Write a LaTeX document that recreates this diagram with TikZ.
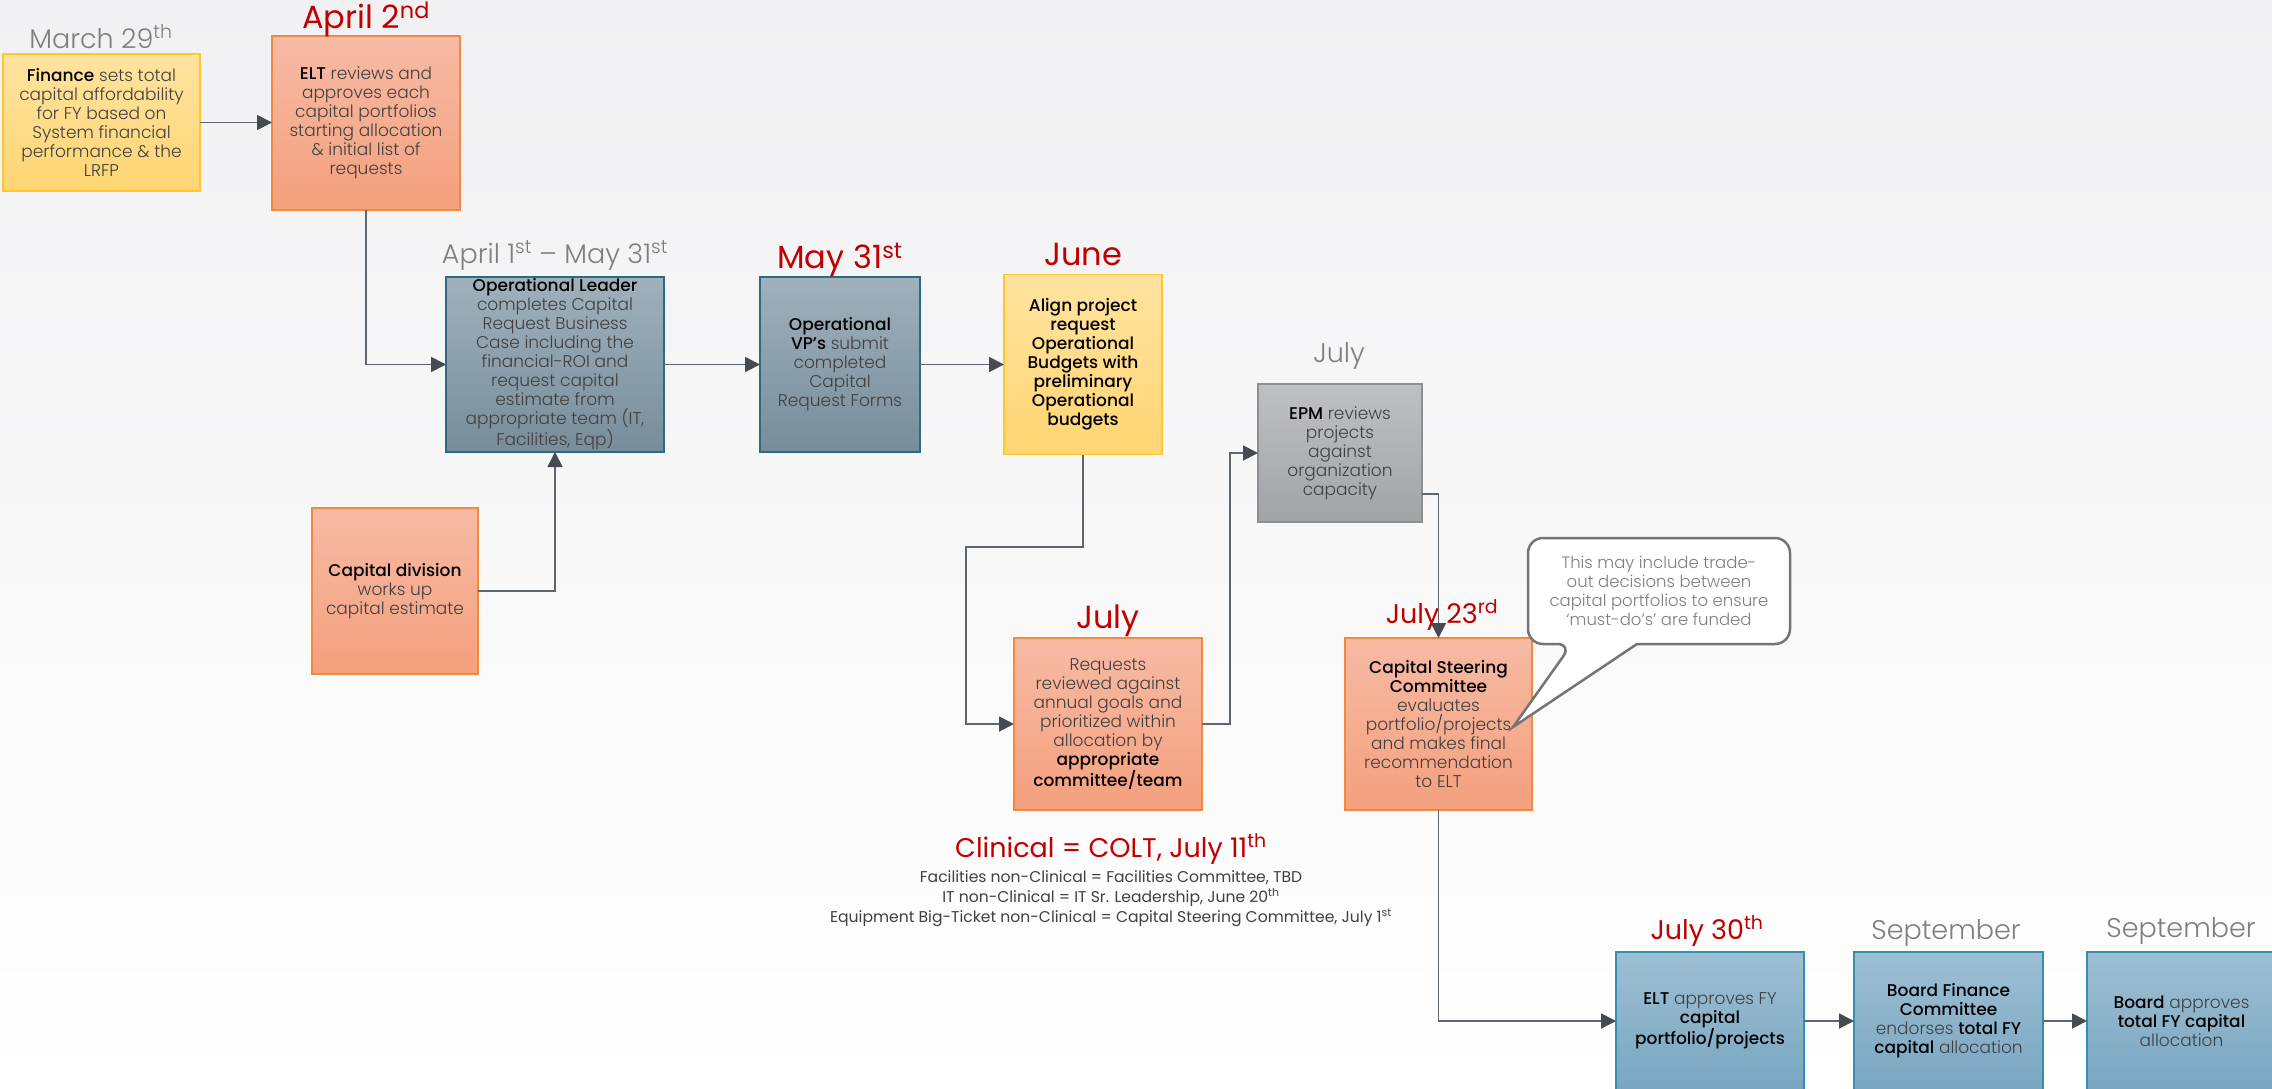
\documentclass[tikz,border=0pt]{standalone}
\usepackage{fontspec}
\setmainfont{Poppins}[UprightFont={* Light},BoldFont={* Medium}]
\newfontfamily\regfont{Poppins}
\usetikzlibrary{arrows.meta,calc}
\definecolor{red1}{HTML}{C00000}
\definecolor{greylbl}{HTML}{7F7F7F}
\definecolor{txt}{HTML}{404040}
\definecolor{ytop}{HTML}{FFE39F}
\definecolor{ybot}{HTML}{FFD573}
\definecolor{ydraw}{HTML}{FFC72C}
\definecolor{otop}{HTML}{F7BAA4}
\definecolor{obot}{HTML}{F4A07D}
\definecolor{odraw}{HTML}{F08A40}
\definecolor{stop}{HTML}{A0B1BD}
\definecolor{sbot}{HTML}{788C9A}
\definecolor{sdraw}{HTML}{2A6A82}
\definecolor{gtop}{HTML}{BFC0C2}
\definecolor{gbot}{HTML}{A1A3A6}
\definecolor{gdraw}{HTML}{8C8E91}
\definecolor{btop}{HTML}{9EBFD3}
\definecolor{bbot}{HTML}{78A6C1}
\definecolor{bdraw}{HTML}{3390AE}
\definecolor{lc}{HTML}{5F656C}
\definecolor{tipc}{HTML}{464B52}
\definecolor{bgtop}{HTML}{F1F1F3}
\definecolor{callc}{HTML}{747474}
\newcommand\bk[1]{\textbf{\color{black}#1}}
\newcommand\sx[1]{\textsuperscript{#1}}
\tikzset{
  box/.style={draw, line width=1.5pt, align=center, inner sep=0pt, outer sep=0pt,
    text=txt, font=\fontsize{17}{19}\selectfont},
  ybox/.style={box, draw=ydraw, top color=ytop, bottom color=ybot},
  obox/.style={box, draw=odraw, top color=otop, bottom color=obot},
  sbox/.style={box, draw=sdraw, top color=stop, bottom color=sbot},
  gbox/.style={box, draw=gdraw, top color=gtop, bottom color=gbot},
  bbox/.style={box, draw=bdraw, top color=btop, bottom color=bbot},
  redA/.style={text=red1, font=\regfont\fontsize{32}{36}\selectfont, anchor=base, inner sep=0pt},
  redB/.style={text=red1, font=\regfont\fontsize{27}{30}\selectfont, anchor=base, inner sep=0pt},
  greyL/.style={text=greylbl, font=\fontsize{27}{30}\selectfont, anchor=base, inner sep=0pt},
  note/.style={text=txt, font=\regfont\fontsize{15.6}{18}\selectfont, anchor=base, inner sep=0pt},
  conn/.style={draw=lc, line width=1.8pt, -{Triangle[length=15pt,width=15pt,color=tipc]}},
}
\begin{document}
\begin{tikzpicture}[x=1pt,y=-1pt]
\useasboundingbox (0,0) rectangle (2272,1088);
\clip (0,0) rectangle (2272,1088);
\fill[top color=bgtop, bottom color=white] (0,0) rectangle (2272,1088);

% boxes
\node[ybox, minimum width=197pt, minimum height=137pt] (fin) at (101.5,122.5)
  {\bk{Finance} sets total\\capital affordability\\for FY based on\\System financial\\performance \& the\\LRFP};
\node[obox, minimum width=188pt, minimum height=174pt] (apr) at (366,123)
  {\bk{ELT} reviews and\\approves each\\capital portfolios\\starting allocation\\\& initial list of\\requests};
\node[sbox, minimum width=218pt, minimum height=175pt] (opl) at (555,364.5)
  {\bk{Operational Leader}\\completes Capital\\Request Business\\Case including the\\financial-ROI and\\request capital\\estimate from\\appropriate team (IT,\\Facilities, Eqp)};
\node[sbox, minimum width=160pt, minimum height=175pt] (may) at (840,364.5)
  {\bk{Operational}\\\bk{VP’s} submit\\completed\\Capital\\Request Forms};
\node[ybox, minimum width=158pt, minimum height=180pt, text=black] (jun) at (1083,364.5)
  {\bfseries Align project\\\bfseries request\\\bfseries Operational\\\bfseries Budgets with\\\bfseries preliminary\\\bfseries Operational\\\bfseries budgets};
\node[gbox, minimum width=164pt, minimum height=138pt] (epm) at (1340,453)
  {\bk{EPM} reviews\\projects\\against\\organization\\capacity};
\node[obox, minimum width=166pt, minimum height=166pt] (cdv) at (395,591)
  {\bk{Capital division}\\works up\\capital estimate};
\node[obox, minimum width=188pt, minimum height=172pt] (req) at (1108,724)
  {Requests\\reviewed against\\annual goals and\\prioritized within\\allocation by\\\bk{appropriate}\\\bk{committee/team}};
\node[obox, minimum width=187pt, minimum height=172pt] (csc) at (1438.5,724)
  {\bk{Capital Steering}\\\bk{Committee}\\evaluates\\portfolio/projects\\and makes final\\recommendation\\to ELT};
\node[bbox, minimum width=188pt, minimum height=138pt] (j30) at (1710,1021)
  {\bk{ELT} approves FY\\\bk{capital}\\\bk{portfolio/projects}};
\node[bbox, minimum width=189pt, minimum height=138pt] (sp1) at (1948.5,1021)
  {\bk{Board Finance}\\\bk{Committee}\\endorses \bk{total FY}\\\bk{capital} allocation};
\node[bbox, minimum width=189pt, minimum height=138pt] (sp2) at (2181.5,1021)
  {\bk{Board} approves\\\bk{total FY capital}\\allocation};

% date labels
\node[greyL] (lmar) at (101,48) {March 29\sx{th}};
\node[redA] (lapr) at (366,28) {April 2\sx{nd}};
\node[greyL] (lopl) at (555,263) {April 1\sx{st} – May 31\sx{st}};
\node[redA] (lmay) at (840,268) {May 31\sx{st}};
\node[redA] (ljun) at (1083,265) {June};
\node[greyL] (lepm) at (1339,362) {July};
\node[redA] (lreq) at (1108,628) {July};
\node[redB] (lcsc) at (1442,623) {July 23\sx{rd}};
\node[redB] (lj30) at (1707,939) {July 30\sx{th}};
\node[greyL] (lsp1) at (1946,939) {September};
\node[greyL] (lsp2) at (2181,937) {September};

% committee notes
\node[redB] (clin) at (1111,857) {Clinical = COLT, July 11\sx{th}};
\node[note] (n1) at (1111,882) {Facilities non-Clinical = Facilities Committee, TBD};
\node[note] (n2) at (1111,902) {IT non-Clinical = IT Sr. Leadership, June 20\sx{th}};
\node[note] (n3) at (1111,922) {Equipment Big-Ticket non-Clinical = Capital Steering Committee, July 1\sx{st}};

% callout
\draw[line width=2.5pt, draw=callc, fill=white]
  (1700,644) [rounded corners=15pt] -- (1790,644) -- (1790,538) -- (1528,538) -- (1528,644)
  -- (1572,644) [sharp corners] -- (1513,727) -- (1637,644) -- cycle;
\node[text=greylbl, align=center, font=\fontsize{16.5}{19}\selectfont, inner sep=0pt] (call) at (1659,591)
  {This may include trade-\\out decisions between\\capital portfolios to ensure\\‘must-do’s’ are funded};

% connectors
\coordinate (k1) at (966,547);
\coordinate (k2) at (1230,724);
\coordinate (k3) at (1422,494);
\draw[conn] (fin.east) -- (fin.east -| apr.west);
\draw[conn] (apr.south) |- (opl.west);
\draw[conn] (cdv.east) -| (opl.south);
\draw[conn] (opl.east) -- (may.west);
\draw[conn] (may.east) -- (jun.west);
\draw[conn] (jun.south) |- (k1) |- (req.west);
\draw[conn] (req.east) -- (k2) |- (epm.west);
\draw[conn] (k3) -| (csc.north);
\draw[conn] (csc.south) |- (j30.west);
\draw[conn] (j30.east) -- (sp1.west);
\draw[conn] (sp1.east) -- (sp2.west);
\end{tikzpicture}
\end{document}
